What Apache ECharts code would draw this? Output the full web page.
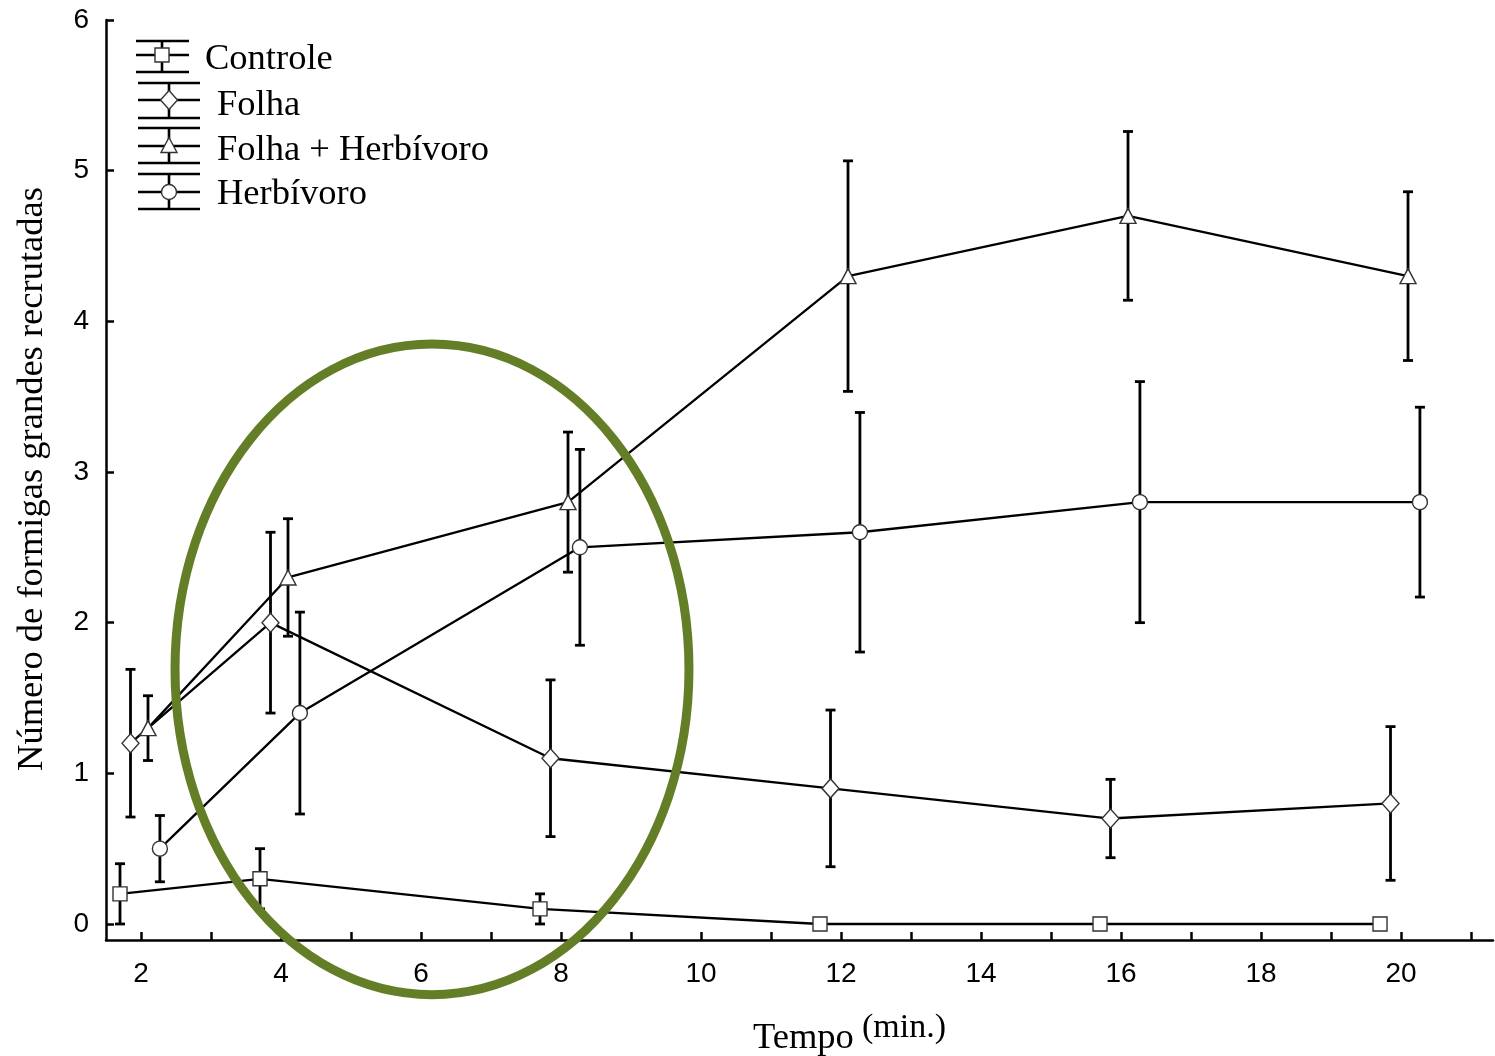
<!DOCTYPE html>
<html><head><meta charset="utf-8">
<script src="https://cdn.jsdelivr.net/npm/echarts@6/dist/echarts.min.js"></script>
<style>html,body{margin:0;padding:0;background:#fff}#c{width:1495px;height:1056px}</style>
</head><body><div id="c"></div>
<script>
// ---- data ----
const times = [2, 4, 8, 12, 16, 20];
const seriesNames = ['Controle', 'Folha', 'Folha + Herbívoro', 'Herbívoro'];
const controleMean = [0.2, 0.3, 0.1, 0, 0, 0];
const controleErr  = [0.2, 0.2, 0.1, 0, 0, 0];
const folhaMean = [1.2, 2.0, 1.1, 0.9, 0.7, 0.8];
const folhaErr  = [0.49, 0.6, 0.52, 0.52, 0.26, 0.51];
const folhaHerbMean = [1.3, 2.3, 2.8, 4.3, 4.7, 4.3];
const folhaHerbErr  = [0.215, 0.39, 0.465, 0.765, 0.56, 0.56];
const herbMean = [0.5, 1.4, 2.5, 2.6, 2.8, 2.8];
const herbErr  = [0.22, 0.67, 0.65, 0.795, 0.8, 0.63];
const yTickValues = [0, 1, 2, 3, 4, 5, 6];
const xTickLabels = [2, 4, 6, 8, 10, 12, 14, 16, 18, 20];
const xTitle = 'Tempo';
const xTitleUnit = '(min.)';
const yTitle = 'Número de formigas grandes recrutadas';
// horizontal dodge of each group (display offset, in minutes)
const dodge = [-0.3, -0.15, 0.1, 0.27];
// highlighted region (annotation ellipse), in data units
const ellipseCenter = [6.157, 1.69];
const ellipseRadii = [3.671, 2.159];

const means = [controleMean, folhaMean, folhaHerbMean, herbMean];
const errs = [controleErr, folhaErr, folhaHerbErr, herbErr];
const symbols = ['rect', 'diamond', 'triangle', 'circle'];
const symbolSizes = [14, [17, 19], [16, 15], 15];

const SERIF = '"Liberation Serif", "Times New Roman", serif';
const SANS = '"Liberation Sans", Arial, sans-serif';

const chart = echarts.init(document.getElementById('c'), null, {renderer: 'canvas'});

const series = [];
means.forEach((m, k) => {
  const xs = times.map(t => t + dodge[k]);
  series.push({
    type: 'custom', name: seriesNames[k] + ' err', xAxisIndex: 0, yAxisIndex: 0, z: 2,
    silent: true, animation: false,
    data: xs.map((x, i) => [x, m[i] - errs[k][i], m[i] + errs[k][i]]),
    encode: {x: 0, y: [1, 2]},
    renderItem: function (params, api) {
      const x = api.value(0), lo = api.value(1), hi = api.value(2);
      if (hi - lo <= 0) return {type: 'group', children: []};
      const p1 = api.coord([x, hi]), p2 = api.coord([x, lo]);
      const cw = 5;
      const st = {stroke: '#000', lineWidth: 2.8};
      return {type: 'group', children: [
        {type: 'line', shape: {x1: p1[0], y1: p1[1], x2: p2[0], y2: p2[1]}, style: st},
        {type: 'line', shape: {x1: p1[0] - cw, y1: p1[1], x2: p1[0] + cw, y2: p1[1]}, style: st},
        {type: 'line', shape: {x1: p2[0] - cw, y1: p2[1], x2: p2[0] + cw, y2: p2[1]}, style: st}
      ]};
    }
  });
  series.push({
    type: 'line', name: seriesNames[k], xAxisIndex: 0, yAxisIndex: 0, z: 3,
    data: xs.map((x, i) => [x, m[i]]),
    symbol: symbols[k], symbolSize: symbolSizes[k], showAllSymbol: true,
    lineStyle: {color: '#000', width: 2.3},
    itemStyle: {color: '#fff', borderColor: '#333', borderWidth: 1.4},
    animation: false, silent: true
  });
});

const option = {
  backgroundColor: '#fff',
  animation: false,
  textStyle: {fontFamily: SANS},
  grid: [
    {left: 106, right: 2, top: 20, bottom: 116},   // data grid
    {left: 141, right: 24, top: 20, bottom: 116},  // x ticks
    {left: 106, right: 2, top: 20, bottom: 132}    // y ticks
  ],
  xAxis: [
    {type: 'value', gridIndex: 0, min: 1.5, max: 21.314,
      axisLine: {show: true, onZero: false, lineStyle: {color: '#000', width: 2.5}},
      axisTick: {show: false}, axisLabel: {show: false}, splitLine: {show: false}},
    {type: 'value', gridIndex: 1, min: 2, max: 21, interval: 1,
      axisLine: {show: false}, splitLine: {show: false},
      axisTick: {show: true, inside: true, length: 8, lineStyle: {color: '#000', width: 2.5}},
      axisLabel: {show: true, margin: 20, fontSize: 28, color: '#000', fontFamily: SANS,
        formatter: v => (xTickLabels.indexOf(v) >= 0 ? String(v) : '')}},
    {type: 'value', gridIndex: 2, min: 0, max: 1, show: false}
  ],
  yAxis: [
    {type: 'value', gridIndex: 0, min: -0.1063, max: 6,
      axisLine: {show: true, onZero: false, lineStyle: {color: '#000', width: 2.5}},
      axisTick: {show: false}, axisLabel: {show: false}, splitLine: {show: false}},
    {type: 'value', gridIndex: 1, min: 0, max: 1, show: false},
    {type: 'value', gridIndex: 2, min: 0, max: 6, interval: 1,
      axisLine: {show: false}, splitLine: {show: false},
      axisTick: {show: true, inside: true, length: 8, lineStyle: {color: '#000', width: 2.5}},
      axisLabel: {show: true, margin: 17, fontSize: 28, color: '#000', fontFamily: SANS,
        formatter: v => (yTickValues.indexOf(v) >= 0 ? String(v) : '')}}
  ],
  series: series
};
chart.setOption(option);

// ---- annotations: legend, titles, ellipse ----
const g = [];
const lineSt = {stroke: '#000', lineWidth: 2.6};
const legendRows = [
  {cy: 55, x0: 136, x1: 189, vx: 162, top: 41, bot: 72, tx: 205, ty: 59},
  {cy: 100, x0: 138, x1: 200, vx: 169, top: 83, bot: 118, tx: 217, ty: 105},
  {cy: 146, x0: 138, x1: 200, vx: 169, top: 128, bot: 163, tx: 217, ty: 150},
  {cy: 192, x0: 138, x1: 200, vx: 169, top: 174, bot: 209, tx: 217, ty: 194}
];
legendRows.forEach((r, k) => {
  [r.top, r.cy, r.bot].forEach(yy => g.push({type: 'line', z: 50,
    shape: {x1: r.x0, y1: yy, x2: r.x1, y2: yy}, style: lineSt}));
  g.push({type: 'line', z: 50, shape: {x1: r.vx, y1: r.top, x2: r.vx, y2: r.bot}, style: lineSt});
  const ms = {fill: '#fff', stroke: '#333', lineWidth: 1.4};
  if (symbols[k] === 'rect') g.push({type: 'rect', z: 51, shape: {x: r.vx - 7, y: r.cy - 7, width: 14, height: 14}, style: ms});
  if (symbols[k] === 'diamond') g.push({type: 'polygon', z: 51, shape: {points: [[r.vx, r.cy - 9.5], [r.vx + 8.5, r.cy], [r.vx, r.cy + 9.5], [r.vx - 8.5, r.cy]]}, style: ms});
  if (symbols[k] === 'triangle') g.push({type: 'polygon', z: 51, shape: {points: [[r.vx, r.cy - 8.5], [r.vx + 8, r.cy + 6.5], [r.vx - 8, r.cy + 6.5]]}, style: ms});
  if (symbols[k] === 'circle') g.push({type: 'circle', z: 51, shape: {cx: r.vx, cy: r.cy, r: 7.5}, style: ms});
  g.push({type: 'text', z: 51, x: r.tx, y: r.ty,
    style: {text: seriesNames[k], font: '36.5px ' + SERIF, fill: '#000', textAlign: 'left', textVerticalAlign: 'middle'}});
});
g.push({type: 'text', x: 753, y: 1038, style: {text: xTitle, font: '36.5px ' + SERIF, fill: '#000', textAlign: 'left', textVerticalAlign: 'middle'}});
g.push({type: 'text', x: 862, y: 1028, style: {text: xTitleUnit, font: '34px ' + SERIF, fill: '#000', textAlign: 'left', textVerticalAlign: 'middle'}});
g.push({type: 'text', x: 32, y: 479, rotation: Math.PI / 2,
  style: {text: yTitle, font: '36.5px ' + SERIF, fill: '#000', textAlign: 'center', textVerticalAlign: 'middle'}});

const c = chart.convertToPixel({gridIndex: 0}, ellipseCenter);
const e = chart.convertToPixel({gridIndex: 0}, [ellipseCenter[0] + ellipseRadii[0], ellipseCenter[1] + ellipseRadii[1]]);
g.push({type: 'ellipse', z: 100, shape: {cx: c[0], cy: c[1], rx: e[0] - c[0], ry: c[1] - e[1]},
  style: {fill: 'none', stroke: '#637e26', lineWidth: 9}});

chart.setOption({graphic: g});
</script>
</body></html>
